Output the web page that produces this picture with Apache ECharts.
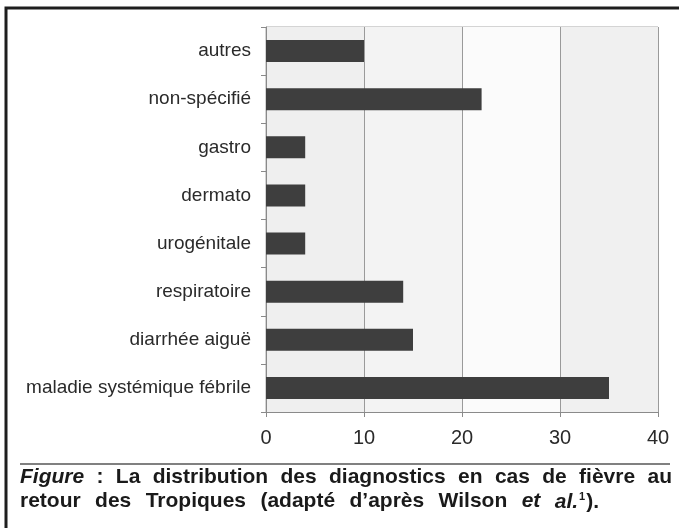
<!DOCTYPE html>
<html><head><meta charset="utf-8">
<script src="https://cdn.jsdelivr.net/npm/echarts@6/dist/echarts.min.js"></script>
<style>html,body{margin:0;padding:0;background:#fff}#c{width:679px;height:528px}</style>
</head><body><div id="c"></div>
<script>
const categories = ['autres','non-spécifié','gastro','dermato','urogénitale','respiratoire','diarrhée aiguë','maladie systémique fébrile'];
const values = [10, 22, 4, 4, 4, 14, 15, 35];
const xTicks = [0, 10, 20, 30, 40];
// caption words: [text, style] ; style i = bold italic, b = bold, s = superscript
const captionLine1 = [[['Figure','i']], [[':','b']], [['La','b']], [['distribution','b']], [['des','b']], [['diagnostics','b']], [['en','b']], [['cas','b']], [['de','b']], [['fièvre','b']], [['au','b']]];
const captionLine2 = [[['retour','b']], [['des','b']], [['Tropiques','b']], [['(adapté','b']], [['d’après','b']], [['Wilson','b']], [['et','i']], [['al.','i'],['1','s'],[').','b']]];

const chart = echarts.init(document.getElementById('c'), null, {renderer:'canvas'});
const FONT = '"Liberation Sans", Arial, sans-serif';
const CF = 21;
const fonts = {
  b: 'bold ' + CF + 'px ' + FONT,
  i: 'italic bold ' + CF + 'px ' + FONT,
  s: 'bold 11px ' + FONT
};
const cv = document.createElement('canvas').getContext('2d');
function measure(parts){ return parts.reduce((a,[t,s])=>{cv.font=fonts[s]; return a+cv.measureText(t).width + (s==='s'?2:0);},0); }
function layoutLine(words, x0, x1, top){
  const ws = words.map(measure);
  const total = ws.reduce((a,b)=>a+b,0);
  const gap = (x1 - x0 - total)/(words.length-1);
  let x = x0; const els = [];
  words.forEach((parts,k)=>{
    const txt = parts.map(([t,s])=>'{'+s+'|'+t+'}').join('');
    els.push({type:'text', left:x, top:top, silent:true, style:{text:txt, fill:'#1a1a1a',
      rich:{
        b:{font:fonts.b, fill:'#1a1a1a'},
        i:{font:fonts.i, fill:'#1a1a1a'},
        s:{font:fonts.s, fill:'#1a1a1a', padding:[0,1,11,1]}
      }}});
    x += ws[k] + gap;
  });
  return els;
}

chart.setOption({
  animation:false,
  backgroundColor:'#fff',
  grid:{left:266, right:21, top:27, bottom:116, show:true, borderColor:'#a8a8a8', borderWidth:1},
  xAxis:{type:'value', min:0, max:40, interval:10,
    axisLine:{show:true, lineStyle:{color:'#8a8a8a'}},
    axisTick:{show:true, length:5, lineStyle:{color:'#8a8a8a'}},
    axisLabel:{fontSize:20, fontFamily:FONT, color:'#2a2a2a', margin:16, customValues: xTicks},
    splitLine:{show:true, lineStyle:{color:'#9a9a9a'}},
    splitArea:{show:true, areaStyle:{color:['#efefef','#f3f3f3','#fbfbfb','#f0f0f0']}}
  },
  yAxis:{type:'category', data:categories, inverse:true,
    axisLine:{show:true, lineStyle:{color:'#8a8a8a'}},
    axisTick:{show:true, length:5, lineStyle:{color:'#8a8a8a'}},
    axisLabel:{fontSize:19, fontFamily:FONT, color:'#2a2a2a', margin:15},
    splitLine:{show:false}
  },
  series:[{type:'bar', data:values, barWidth:22, itemStyle:{color:'#3e3e3e'}}],
  graphic:[
    {type:'rect', shape:{x:6, y:8, width:700, height:540}, style:{fill:'none', stroke:'#1e1e1e', lineWidth:3}, silent:true},
    {type:'line', shape:{x1:20, y1:464, x2:670, y2:464}, style:{stroke:'#808080', lineWidth:2}, silent:true},
    ...layoutLine(captionLine1, 20, 672, 467),
    ...layoutLine(captionLine2, 20, 599, 491)
  ]
});
</script></body></html>
